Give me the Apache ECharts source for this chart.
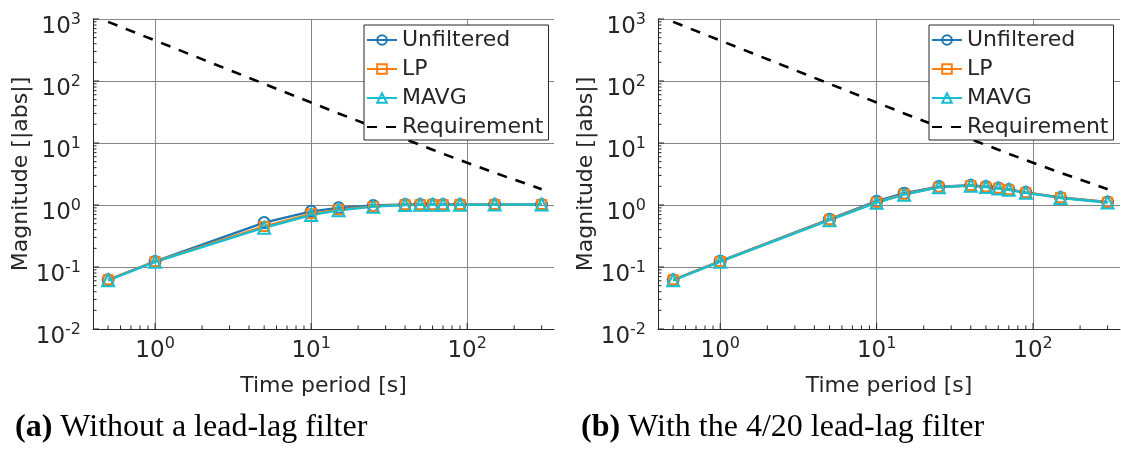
<!DOCTYPE html>
<html>
<head>
<meta charset="utf-8">
<script src="https://cdn.jsdelivr.net/npm/echarts@6/dist/echarts.min.js"></script>
<style>
  html, body { margin: 0; padding: 0; background: #ffffff; }
  #chart { width: 1121px; height: 455px; }
</style>
</head>
<body>
<div id="chart"></div>
<script>
// Time periods of the test signals [s]
const periods = [0.5, 1, 5, 10, 15, 25, 40, 50, 60, 70, 90, 150, 300];

// Magnitude limit that the response must stay below
const requirement = [900, 450, 90, 45, 30, 18.3, 11.5, 9.3, 7.8, 6.7, 5.3, 3.3, 1.8];

// (a) without a lead-lag filter
const unfilteredA = [0.062, 0.123, 0.52, 0.79, 0.90, 0.98, 1.02, 1.02, 1.02, 1.02, 1.02, 1.02, 1.02];
const lpA         = [0.062, 0.122, 0.45, 0.72, 0.84, 0.95, 1.01, 1.01, 1.01, 1.01, 1.02, 1.02, 1.02];
const mavgA       = [0.061, 0.121, 0.43, 0.69, 0.82, 0.94, 1.00, 1.01, 1.01, 1.01, 1.01, 1.02, 1.02];

// (b) with the 4/20 lead-lag filter
const unfilteredB = [0.062, 0.124, 0.59, 1.15, 1.55, 1.98, 2.08, 1.98, 1.88, 1.78, 1.60, 1.32, 1.12];
const lpB         = [0.062, 0.123, 0.58, 1.11, 1.49, 1.94, 2.06, 1.96, 1.86, 1.77, 1.58, 1.31, 1.11];
const mavgB       = [0.061, 0.122, 0.57, 1.09, 1.47, 1.93, 2.05, 1.95, 1.85, 1.76, 1.57, 1.30, 1.10];

const captions = ['Without a lead-lag filter', 'With the 4/20 lead-lag filter'];
const captionTags = ['(a)', '(b)'];
const seriesNames = ['Unfiltered', 'LP', 'MAVG', 'Requirement'];

const X_MIN = 0.4, X_MAX = 360;
const Y_MIN = 0.01, Y_MAX = 1000;

const SANS = 'DejaVu Sans';
const SERIF = 'Liberation Serif';
const INK = '#262626';
const GRID = '#858585';
const COLORS = { Unfiltered: '#1f77b4', LP: '#ff7f0e', MAVG: '#17becf' };

// log-axis tick positions: 1..9 times each decade inside the axis range
function logTicks(lo, hi) {
  const out = [];
  for (let k = Math.floor(Math.log10(lo)); k <= Math.ceil(Math.log10(hi)); k++) {
    for (let m = 1; m <= 9; m++) {
      const v = +(m * Math.pow(10, k)).toPrecision(6);
      if (v >= lo && v <= hi) out.push(v);
    }
  }
  return out;
}
const isDecade = v => Math.abs(Math.log10(v) - Math.round(Math.log10(v))) < 1e-9;

const powRich = {
  b: { fontFamily: SANS, fontSize: 23, lineHeight: 23, color: INK, verticalAlign: 'bottom' },
  s: { fontFamily: SANS, fontSize: 16, lineHeight: 16, color: INK, verticalAlign: 'bottom', padding: [0, 0, 11, 0] }
};
const powLabel = v => '{b|10}{s|' + Math.round(Math.log10(v)) + '}';

const grids = [
  { left: 93, top: 19, width: 461, height: 310 },
  { left: 658, top: 19, width: 462, height: 310 }
];

const xAxes = grids.map((g, i) => ({
  type: 'log', logBase: 10, gridIndex: i, min: X_MIN, max: X_MAX,
  name: 'Time period [s]', nameLocation: 'middle', nameGap: 46,
  nameTextStyle: { fontFamily: SANS, fontSize: 22, color: INK },
  axisLine: { show: true, onZero: false, lineStyle: { color: INK, width: 1 } },
  axisTick: { show: false },
  axisLabel: { formatter: powLabel, rich: powRich, margin: 11, showMinLabel: false, showMaxLabel: false },
  splitLine: { show: true, showMinLine: false, showMaxLine: false, lineStyle: { color: GRID, width: 1 } }
}));

const yAxes = grids.map((g, i) => ({
  type: 'log', logBase: 10, gridIndex: i, min: Y_MIN, max: Y_MAX,
  name: 'Magnitude [|abs|]', nameLocation: 'middle', nameGap: 55,
  nameTextStyle: { fontFamily: SANS, fontSize: 22, color: INK },
  axisLine: { show: true, onZero: false, lineStyle: { color: INK, width: 1 } },
  axisTick: { show: false },
  axisLabel: { formatter: powLabel, rich: powRich, margin: 12, padding: [16, 0, 0, 0] },
  splitLine: { show: true, showMinLine: false, lineStyle: { color: GRID, width: 1 } }
}));

function measured(name, values, i, symbol, size) {
  const c = COLORS[name];
  return {
    name, type: 'line', xAxisIndex: i, yAxisIndex: i,
    data: periods.map((p, k) => [p, values[k]]),
    symbol, symbolSize: size, showAllSymbol: true,
    lineStyle: { color: c, width: 2.4 },
    itemStyle: { color: 'rgba(255,255,255,0)', borderColor: c, borderWidth: 2 },
    emphasis: { disabled: true }, animation: false, z: 3
  };
}

function requirementSeries(i) {
  return {
    name: 'Requirement', type: 'line', xAxisIndex: i, yAxisIndex: i,
    data: periods.map((p, k) => [p, requirement[k]]),
    symbol: 'none',
    lineStyle: { color: '#000000', width: 2.6, type: [10, 9] },
    itemStyle: { color: '#000000' },
    emphasis: { disabled: true }, animation: false, z: 3
  };
}

// inward tick marks (long at decades, short in between) on the two axes
function tickSeries(i) {
  const xs = logTicks(X_MIN, X_MAX).filter(v => v > X_MIN);
  const ys = logTicks(Y_MIN, Y_MAX);
  return [{
    type: 'custom', xAxisIndex: i, yAxisIndex: i, silent: true, animation: false, z: 4,
    data: xs.map(v => [v, Y_MIN]),
    renderItem: (params, api) => {
      const p = api.coord([api.value(0), Y_MIN]);
      const len = isDecade(api.value(0)) ? 6 : 3.5;
      return { type: 'line', shape: { x1: p[0], y1: p[1], x2: p[0], y2: p[1] - len },
               style: { stroke: INK, lineWidth: 1 } };
    }
  }, {
    type: 'custom', xAxisIndex: i, yAxisIndex: i, silent: true, animation: false, z: 4,
    data: ys.map(v => [X_MIN, v]),
    renderItem: (params, api) => {
      const p = api.coord([X_MIN, api.value(1)]);
      const len = isDecade(api.value(1)) ? 6 : 3.5;
      return { type: 'line', shape: { x1: p[0], y1: p[1], x2: p[0] + len, y2: p[1] },
               style: { stroke: INK, lineWidth: 1 } };
    }
  }];
}

const panelData = [[unfilteredA, lpA, mavgA], [unfilteredB, lpB, mavgB]];
const series = [];
panelData.forEach((vals, i) => {
  series.push(measured('Unfiltered', vals[0], i, 'circle', 11));
  series.push(measured('LP', vals[1], i, 'rect', 9));
  series.push(measured('MAVG', vals[2], i, 'triangle', 12));
  series.push(requirementSeries(i));
  series.push(...tickSeries(i));
});

const legends = [364, 929].map(left => ({
  left, top: 25, orient: 'vertical',
  backgroundColor: '#ffffff', borderColor: INK, borderWidth: 1,
  padding: [3, 5, 1, 2], itemGap: 5, itemWidth: 30, itemHeight: 12,
  textStyle: { fontFamily: SANS, fontSize: 22, lineHeight: 24, color: INK },
  selectedMode: false,
  data: seriesNames.map(n => n === 'Requirement' ? { name: n, itemStyle: { opacity: 0 } } : { name: n })
}));

const titles = [10, 576].map((left, i) => ({
  left, top: 407,
  text: '{b|' + captionTags[i] + '} ' + captions[i],
  textStyle: {
    fontFamily: SERIF, fontSize: 32, fontWeight: 'normal', color: '#000000',
    rich: { b: { fontFamily: SERIF, fontSize: 32, fontWeight: 'bold', color: '#000000' } }
  }
}));

const chart = echarts.init(document.getElementById('chart'), null, { renderer: 'canvas' });
chart.setOption({
  backgroundColor: '#ffffff',
  animation: false,
  title: titles,
  legend: legends,
  grid: grids,
  xAxis: xAxes,
  yAxis: yAxes,
  series
});
</script>
</body>
</html>
